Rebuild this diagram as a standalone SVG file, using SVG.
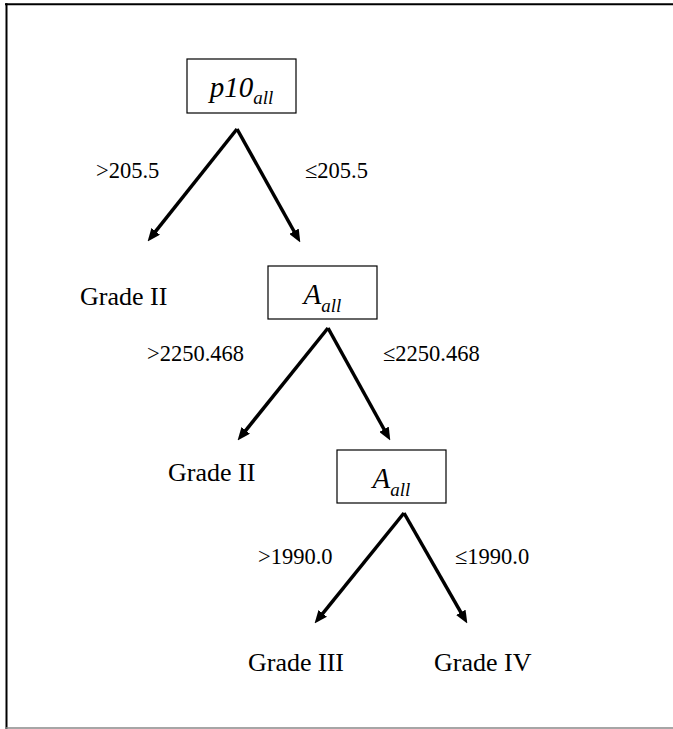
<svg xmlns="http://www.w3.org/2000/svg" width="673" height="729" viewBox="0 0 673 729">
  <style>
    .box { fill: #ffffff; stroke: #000000; stroke-width: 1.2; }
    .var { font-family: "Liberation Serif", "Times New Roman", serif; font-style: italic; font-size: 29px; fill: #000; }
    .sub { font-size: 19px; }
    .leaf { font-family: "Liberation Serif", "Times New Roman", serif; font-size: 26px; fill: #000; }
    .cond { font-family: "Liberation Serif", "Times New Roman", serif; font-size: 22.5px; fill: #000; }
    .edge { fill: none; stroke: #000; stroke-width: 3.5; marker-end: url(#head); }
  </style>
  <defs>
    <marker id="head" viewBox="0 0 12 10" refX="4" refY="5" markerWidth="13" markerHeight="11" markerUnits="userSpaceOnUse" orient="auto">
      <path d="M0,0 L12,5 L0,10 z" fill="#000"/>
    </marker>
  </defs>

  <rect width="673" height="729" fill="#ffffff"/>

  <!-- page frame -->
  <g id="frame">
    <line x1="5" y1="4.3" x2="673" y2="4.3" stroke="#000" stroke-width="2"/>
    <line x1="6.5" y1="3.3" x2="6.5" y2="729" stroke="#000" stroke-width="2"/>
    <line x1="6" y1="728" x2="673" y2="728" stroke="#888" stroke-width="1.5"/>
  </g>

  <!-- split nodes -->
  <g id="node-p10">
    <rect class="box" x="187" y="59" width="109" height="54"/>
    <text class="var" x="241.5" y="97" text-anchor="middle">p10<tspan class="sub" dy="7">all</tspan></text>
  </g>
  <g id="node-a1">
    <rect class="box" x="268" y="266" width="109" height="53"/>
    <text class="var" x="322.5" y="304" text-anchor="middle">A<tspan class="sub" dy="8">all</tspan></text>
  </g>
  <g id="node-a2">
    <rect class="box" x="337" y="450" width="109" height="53"/>
    <text class="var" x="391.5" y="488" text-anchor="middle">A<tspan class="sub" dy="8">all</tspan></text>
  </g>

  <!-- leaf nodes -->
  <g id="leaf-grade2a"><text class="leaf" x="80" y="305">Grade II</text></g>
  <g id="leaf-grade2b"><text class="leaf" x="168" y="481">Grade II</text></g>
  <g id="leaf-grade3"><text class="leaf" x="248" y="671">Grade III</text></g>
  <g id="leaf-grade4"><text class="leaf" x="434" y="671">Grade IV</text></g>

  <!-- branches -->
  <g id="connectors">
    <path class="edge" d="M237,129 L153,234.7"/>
    <path class="edge" d="M237,129 L296.1,235"/>
    <path class="edge" d="M328,328 L243,433.8"/>
    <path class="edge" d="M328,328 L386.1,433"/>
    <path class="edge" d="M404,513 L320,616.8"/>
    <path class="edge" d="M404,513 L463,616.1"/>
  </g>

  <!-- branch conditions -->
  <g id="labels">
    <text class="cond" x="96" y="178">&gt;205.5</text>
    <text class="cond" x="305" y="178">≤205.5</text>
    <text class="cond" x="147" y="361">&gt;2250.468</text>
    <text class="cond" x="383" y="361">≤2250.468</text>
    <text class="cond" x="258" y="564">&gt;1990.0</text>
    <text class="cond" x="455" y="564">≤1990.0</text>
  </g>
</svg>
